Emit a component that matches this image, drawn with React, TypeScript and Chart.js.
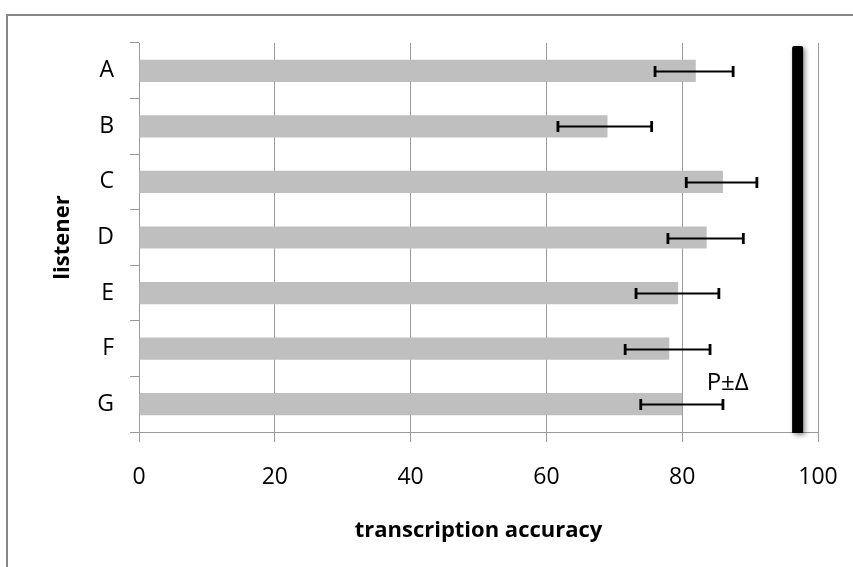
import React, { useEffect, useRef } from "react";
import { Chart, registerables } from "chart.js";

Chart.register(...registerables);

const listeners = ["A", "B", "C", "D", "E", "F", "G"];
const accuracy = [82, 69, 86, 83.6, 79.4, 78.1, 80];
const errLow = [76.0, 61.7, 80.6, 77.9, 73.2, 71.6, 73.9];
const errHigh = [87.5, 75.5, 91.0, 89.0, 85.4, 84.1, 86.0];
const boundValue = 97;
const noteText = "P±Δ";
const noteX = 86.7;
const noteY = 5.62;
const xTicks = [0, 20, 40, 60, 80, 100];

const FONT = "'Open Sans', 'Noto Sans', sans-serif";

export default function App() {
  const ref = useRef<HTMLCanvasElement | null>(null);

  useEffect(() => {
    const canvas = ref.current;
    if (!canvas) return;

    const framePlugin = {
      id: "frame",
      beforeDraw(chart: any) {
        const ctx = chart.ctx;
        ctx.save();
        ctx.fillStyle = "#ffffff";
        ctx.fillRect(0, 0, chart.width, chart.height);
        ctx.strokeStyle = "#878787";
        ctx.lineWidth = 2;
        ctx.beginPath();
        ctx.moveTo(7, chart.height + 2);
        ctx.lineTo(7, 15);
        ctx.lineTo(chart.width + 2, 15);
        ctx.stroke();
        ctx.restore();
      },
    };

    const extrasPlugin = {
      id: "extras",
      afterDatasetsDraw(chart: any) {
        const ctx = chart.ctx;
        const xs = chart.scales.x;
        const ys = chart.scales.y;
        const area = chart.chartArea;
        ctx.save();
        // error bars
        ctx.strokeStyle = "#000000";
        for (let i = 0; i < listeners.length; i++) {
          const y = Math.round(ys.getPixelForValue(i)) + 0.5;
          const x1 = xs.getPixelForValue(errLow[i]);
          const x2 = xs.getPixelForValue(errHigh[i]);
          ctx.lineWidth = 2.2;
          ctx.beginPath();
          ctx.moveTo(x1, y);
          ctx.lineTo(x2, y);
          ctx.stroke();
          ctx.lineWidth = 2.8;
          ctx.beginPath();
          ctx.moveTo(x1, y - 5.5);
          ctx.lineTo(x1, y + 5.5);
          ctx.moveTo(x2, y - 5.5);
          ctx.lineTo(x2, y + 5.5);
          ctx.stroke();
        }
        // bound line
        const bx = xs.getPixelForValue(boundValue);
        ctx.save();
        ctx.shadowColor = "rgba(0,0,0,0.45)";
        ctx.shadowBlur = 5;
        ctx.shadowOffsetX = 2;
        ctx.shadowOffsetY = 2;
        ctx.fillStyle = "#000000";
        ctx.beginPath();
        const w = 11;
        const top = area.top + 3;
        const bottom = area.bottom + 1;
        const r = 2;
        ctx.moveTo(bx - w / 2 + r, top);
        ctx.lineTo(bx + w / 2 - r, top);
        ctx.quadraticCurveTo(bx + w / 2, top, bx + w / 2, top + r);
        ctx.lineTo(bx + w / 2, bottom);
        ctx.lineTo(bx - w / 2, bottom);
        ctx.lineTo(bx - w / 2, top + r);
        ctx.quadraticCurveTo(bx - w / 2, top, bx - w / 2 + r, top);
        ctx.closePath();
        ctx.fill();
        ctx.restore();
        // note text
        ctx.fillStyle = "#000000";
        ctx.font = `24px ${FONT}`;
        ctx.textAlign = "center";
        ctx.textBaseline = "middle";
        ctx.fillText(noteText, xs.getPixelForValue(noteX), ys.getPixelForValue(noteY));
        ctx.restore();
      },
    };

    const chart = new Chart(canvas, {
      type: "bar",
      data: {
        labels: listeners,
        datasets: [
          {
            data: accuracy,
            backgroundColor: "#bfbfbf",
            borderWidth: 0,
            categoryPercentage: 1,
            barPercentage: 0.4,
          },
        ],
      },
      options: {
        indexAxis: "y",
        animation: false,
        responsive: false,
        maintainAspectRatio: false,
        layout: { padding: { top: 43, right: 35, left: 0, bottom: 0 } },
        plugins: {
          legend: { display: false },
          tooltip: { enabled: false },
        },
        scales: {
          x: {
            type: "linear",
            min: 0,
            max: 100,
            afterFit: (s: any) => {
              s.height = 135;
              s.paddingLeft = 0;
              s.paddingRight = 0;
            },
            afterBuildTicks: (s: any) => {
              s.ticks = xTicks.map((v) => ({ value: v }));
            },
            ticks: {
              color: "#000000",
              font: { family: FONT, size: 23 },
              padding: 22,
              maxRotation: 0,
            },
            grid: {
              color: "#9a9a9a",
              lineWidth: 1,
              tickLength: 10,
              drawTicks: true,
            },
            border: { color: "#9a9a9a", width: 1 },
            title: {
              display: true,
              text: "transcription accuracy",
              color: "#000000",
              font: { family: FONT, size: 22, weight: "bold" },
              padding: { top: 0, bottom: 23 },
            },
          },
          y: {
            type: "category",
            offset: true,
            afterFit: (s: any) => {
              s.width = 139;
              s.paddingTop = 0;
              s.paddingBottom = 0;
            },
            ticks: {
              color: "#000000",
              font: { family: FONT, size: 23 },
              padding: 16,
            },
            grid: {
              offset: true,
              drawOnChartArea: false,
              drawTicks: true,
              tickLength: 9,
              color: "#9a9a9a",
              lineWidth: 1,
            },
            border: { color: "#9a9a9a", width: 1 },
            title: {
              display: true,
              text: "listener",
              color: "#000000",
              font: { family: FONT, size: 22, weight: "bold" },
              padding: { top: 50, bottom: 0 },
            },
          },
        },
      },
      plugins: [framePlugin, extrasPlugin],
    });

    return () => chart.destroy();
  }, []);

  return (
    <div style={{ position: "absolute", left: 0, top: 0, width: 853, height: 567, overflow: "hidden" }}>
      <canvas ref={ref} width={853} height={567} style={{ display: "block" }} />
    </div>
  );
}
